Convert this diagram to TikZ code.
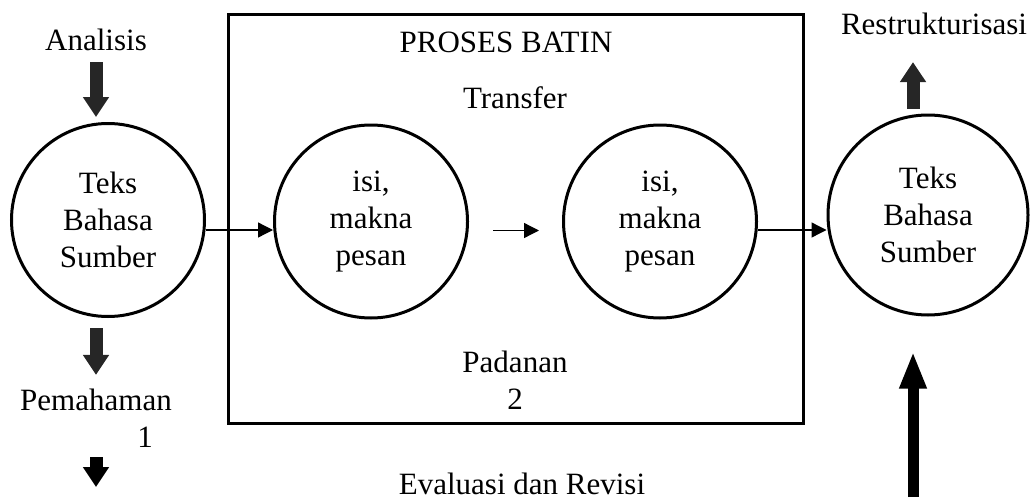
\documentclass[tikz,border=0pt]{standalone}
\usepackage{fontspec}
\setmainfont{Liberation Serif}
\usetikzlibrary{arrows.meta}

\begin{document}
\begin{tikzpicture}[x=1pt, y=-1pt,
  txt/.style  = {font=\fontsize{31}{37}\selectfont, align=center, inner sep=2pt},
  bub/.style  = {circle, draw, line width=3pt, txt, minimum size=#1},
  thin/.style = {line width=1.3pt, -{Triangle[length=15pt, width=15pt]}},
  blk/.style  = {line width=13pt, black!85, -{Triangle[length=20pt, width=25pt]}},
  big/.style  = {line width=11pt, black, -{Triangle[length=37pt, width=25pt]}},
  ]
  \useasboundingbox (0,0) rectangle (1032,503);

  % Inner process box
  \node (batin) at (515.5,219) [draw, line width=3pt, minimum width=575pt, minimum height=408pt] {};
  \node (judul)    at (506,42)  [txt] {PROSES BATIN};
  \node (transfer) at (515,98)  [txt] {Transfer};
  \node (padanan)  at (515,380) [txt] {Padanan\\2};

  % Circles
  \node (src)  at (108,220)   [bub=193pt] {Teks\\Bahasa\\Sumber};
  \node (msg1) at (371,221.5) [bub=193pt] {isi,\\makna\\pesan};
  \node (msg2) at (660,221.5) [bub=193pt] {isi,\\makna\\pesan};
  \node (tgt)  at (928,215)   [bub=200pt] {Teks\\Bahasa\\Sumber};

  % Labels outside
  \node (analisis) at (96,40)   [txt] {Analisis};
  \node (paham)    at (96,400)  [txt] {Pemahaman};
  \node (satu)     at (145,437) [txt] {1};
  \node (restr)    at (934,24)  [txt] {Restrukturisasi};
  \node (eval)     at (522,494) [txt, anchor=base] {Evaluasi dan Revisi};
  \coordinate (evalL) at (96,487);
  \coordinate (evalR) at (913,497);

  % Thin connectors
  \draw[thin] ([yshift=-10pt]src.east)  -- ([yshift=-8.5pt]msg1.west);
  \draw[thin, shorten <=24pt, shorten >=23pt]
    ([yshift=-9pt]msg1.east) -- ([yshift=-9pt]msg2.west);
  \draw[thin] ([yshift=-8.5pt]msg2.east) -- ([yshift=-15pt]tgt.west);

  % Block arrows
  \draw[blk, shorten <=9pt, shorten >=5pt]   (analisis.south) -- (src.north -| analisis.south);
  \draw[blk, shorten <=10pt, shorten >=12pt] (src.south -| paham.north) -- (paham.north);
  \draw[blk, black, shorten <=44pt] (paham.south) -- (evalL);
  \draw[blk, shorten <=5pt, shorten >=25pt]  ([xshift=-15pt]tgt.north) -- (restr.south -| evalR);
  \draw[big, shorten >=35pt] (evalR) -- (tgt.south -| evalR);
\end{tikzpicture}
\end{document}
